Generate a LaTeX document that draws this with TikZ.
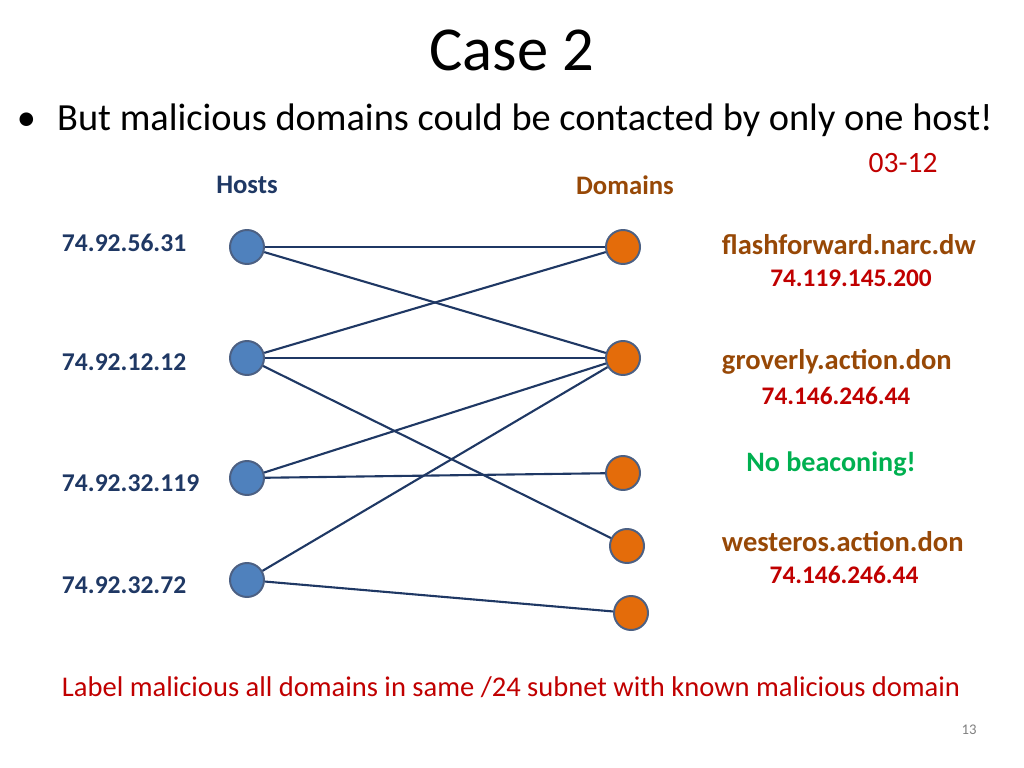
\documentclass[tikz,border=0pt]{standalone}
\usepackage{fontspec}
\setmainfont{Carlito}
\definecolor{hostblue}{RGB}{79,129,189}
\definecolor{domorange}{RGB}{228,108,10}
\definecolor{navy}{RGB}{31,56,100}
\definecolor{brownish}{RGB}{151,72,6}
\definecolor{darkred}{RGB}{192,0,0}
\definecolor{beacongreen}{RGB}{0,176,80}
\begin{document}
\begin{tikzpicture}[x=0.025cm,y=-0.025cm,
        host/.style={circle,draw=navy!80,line width=1.4pt,fill=hostblue,minimum size=0.85cm,inner sep=0pt},
        dom/.style={circle,draw=navy!80,line width=1.4pt,fill=domorange,minimum size=0.85cm,inner sep=0pt},
        iplabel/.style={font=\fontsize{18.2}{20}\selectfont\bfseries,text=navy,anchor=west},
        dname/.style={font=\fontsize{20.3}{22}\selectfont\bfseries,text=brownish,anchor=west},
        dip/.style={font=\fontsize{18}{20}\selectfont\bfseries,text=darkred},
        link/.style={navy,line width=1.5pt}
    ]
    \useasboundingbox (0,0) rectangle (1024,768);

    \node[font=\fontsize{44.5}{46}\selectfont] (title) at (512,50) {Case 2};
    \node[font=\fontsize{27.3}{30}\selectfont,anchor=west] (point) at (12,120)
        {\textbullet\hspace{0.55em}But malicious domains could be contacted by only one host!};
    \node[font=\fontsize{21}{23}\selectfont,text=darkred] (date) at (903,163) {03-12};

    \node[font=\fontsize{19}{21}\selectfont\bfseries,text=navy] (hosts) at (247,185) {Hosts};
    \node[font=\fontsize{19}{21}\selectfont\bfseries,text=brownish] (domains) at (625,185) {Domains};

    % hosts
    \node[host] (h1) at (247,247) {};
    \node[host] (h2) at (247,358) {};
    \node[host] (h3) at (247,478) {};
    \node[host] (h4) at (247,580) {};
    \node[iplabel] (l1) at (57,243) {74.92.56.31};
    \node[iplabel] (l2) at (57,362) {74.92.12.12};
    \node[iplabel] (l3) at (57,483) {74.92.32.119};
    \node[iplabel] (l4) at (57,585) {74.92.32.72};

    % domains
    \node[dom] (d1) at (623,247) {};
    \node[dom] (d2) at (623,358) {};
    \node[dom] (d3) at (623,473) {};
    \node[dom] (d4) at (627,546) {};
    \node[dom] (d5) at (631,613) {};

    \draw[link] (h1) -- (d1);
    \draw[link] (h1) -- (d2);
    \draw[link] (h2) -- (d1);
    \draw[link] (h2) -- (d2);
    \draw[link] (h2) -- (d4);
    \draw[link] (h3) -- (d2);
    \draw[link] (h3) -- (d3);
    \draw[link] (h4) -- (d2);
    \draw[link] (h4) -- (d5);

    \node[dname] (n1) at (717,245) {flashforward.narc.dw};
    \node[dip] (i1) at (851,278) {74.119.145.200};
    \node[dname] (n2) at (717,362) {groverly.action.don};
    \node[dip] (i2) at (836,396) {74.146.246.44};
    \node[font=\fontsize{20}{22}\selectfont\bfseries,text=beacongreen] (nb) at (831,464) {No beaconing!};
    \node[dname] (n4) at (717,542) {westeros.action.don};
    \node[dip] (i4) at (844,575) {74.146.246.44};

    \node[font=\fontsize{20.3}{22}\selectfont,text=darkred,anchor=west] (note) at (57,687)
        {Label malicious all domains in same /24 subnet with known malicious domain};
    \node[font=\fontsize{10.5}{12}\selectfont,text=gray] (page) at (969,730) {13};
\end{tikzpicture}
\end{document}
